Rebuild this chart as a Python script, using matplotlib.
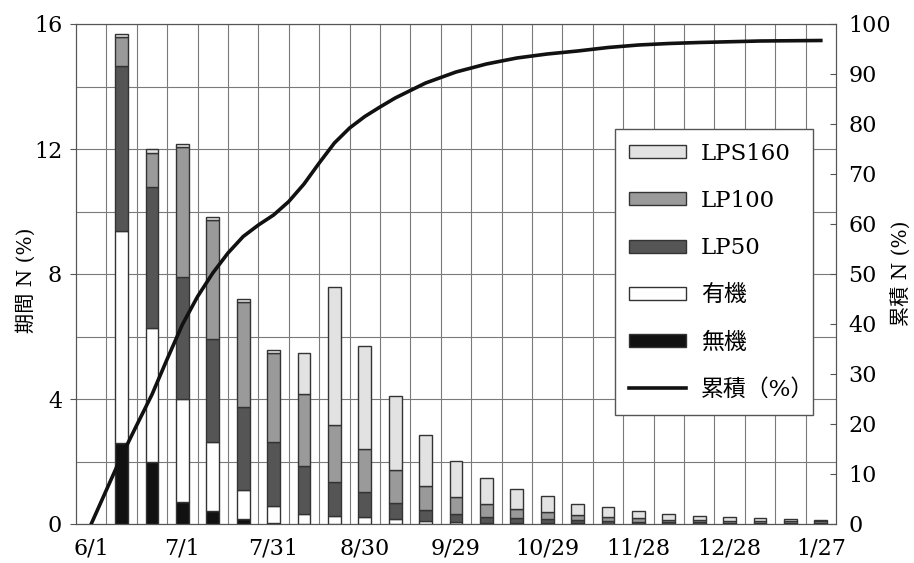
import numpy as np
import matplotlib
matplotlib.use("Agg")
import matplotlib.pyplot as plt
from matplotlib.patches import Patch
from matplotlib.lines import Line2D

plt.rcParams["font.family"] = ["DejaVu Serif", "Noto Sans CJK JP"]

# 10-day periods, days after 6/1
days = np.arange(10, 250, 10)

muki = [2.59, 1.97, 0.72, 0.42, 0.17, 0.02, 0.01, 0.01, 0.01, 0.01, 0.0, 0.0,
        0.0, 0.0, 0.0, 0.0, 0.0, 0.0, 0.0, 0.0, 0.0, 0.0, 0.0, 0.0]
yuki = [6.79, 4.29, 3.29, 2.21, 0.92, 0.55, 0.30, 0.25, 0.23, 0.14, 0.09, 0.06,
        0.04, 0.03, 0.02, 0.02, 0.01, 0.01, 0.01, 0.0, 0.0, 0.0, 0.0, 0.0]
lp50 = [5.29, 4.52, 3.89, 3.29, 2.67, 2.06, 1.54, 1.10, 0.77, 0.53, 0.37, 0.27,
        0.20, 0.15, 0.15, 0.10, 0.08, 0.06, 0.05, 0.05, 0.04, 0.04, 0.03, 0.03]
lp100 = [0.90, 1.10, 4.18, 3.81, 3.34, 2.83, 2.31, 1.82, 1.40, 1.05, 0.75, 0.54,
         0.40, 0.30, 0.21, 0.18, 0.12, 0.12, 0.08, 0.07, 0.07, 0.06, 0.06, 0.06]
lps160 = [0.12, 0.11, 0.09, 0.08, 0.09, 0.10, 1.31, 4.41, 3.28, 2.37, 1.65, 1.15,
          0.84, 0.64, 0.50, 0.35, 0.32, 0.24, 0.18, 0.14, 0.10, 0.08, 0.07, 0.05]

cum_days = [0, 5, 10, 15, 20, 25, 30, 35, 40, 45, 50, 55, 60, 65, 70, 75, 80, 85,
            90, 95, 100, 110, 120, 130, 140, 150, 160, 170, 180, 190, 200, 210,
            220, 230, 240]
cum_vals = [0, 6.8, 13.6, 19.8, 25.9, 33.0, 39.9, 45.5, 50.2, 54.2, 57.5, 59.8,
            61.8, 64.5, 68.0, 72.2, 76.2, 79.2, 81.5, 83.4, 85.2, 88.2, 90.4, 92.0,
            93.2, 94.0, 94.6, 95.3, 95.8, 96.1, 96.3, 96.45, 96.6, 96.65, 96.7]

tick_days = [0, 30, 60, 90, 120, 150, 180, 210, 240]
tick_labels = ["6/1", "7/1", "7/31", "8/30", "9/29", "10/29", "11/28", "12/28", "1/27"]

series = [
    ("無機", muki, "#111111"),
    ("有機", yuki, "#ffffff"),
    ("LP50", lp50, "#555555"),
    ("LP100", lp100, "#9a9a9a"),
    ("LPS160", lps160, "#e2e2e2"),
]

fig = plt.figure(figsize=(9.14, 5.63), dpi=100)
ax = fig.add_axes([76 / 914, 1 - 524 / 563, 760 / 914, 500 / 563])

bottom = np.zeros(len(days))
for name, vals, color in series:
    vals = np.array(vals)
    ax.bar(days, vals, width=4.2, bottom=bottom, color=color,
           edgecolor="#333333", linewidth=1.0, zorder=3)
    bottom += vals

ax.set_xlim(-5, 245)
ax.set_ylim(0, 16)
ax.set_xticks(tick_days)
ax.set_xticklabels(tick_labels)
ax.set_xticks(np.arange(5, 245, 10), minor=True)
ax.set_yticks([0, 4, 8, 12, 16])
ax.set_yticks([2, 6, 10, 14], minor=True)
ax.grid(True, which="minor", axis="x", color="#7a7a7a", linewidth=0.8)
ax.grid(True, which="both", axis="y", color="#7a7a7a", linewidth=0.8)
ax.set_axisbelow(True)
ax.tick_params(axis="x", which="both", length=0, pad=10, labelsize=16)
ax.tick_params(axis="y", which="major", length=4, direction="out", pad=6,
               labelsize=16, color="#555555")
ax.tick_params(axis="y", which="minor", length=0)
for sp in ax.spines.values():
    sp.set_color("#555555")

ax2 = ax.twinx()
ax2.plot(cum_days, cum_vals, color="#111111", linewidth=2.6, zorder=5,
         solid_joinstyle="round")
ax2.set_ylim(0, 100)
ax2.set_yticks(np.arange(0, 101, 10))
ax2.tick_params(axis="y", length=4, direction="in", pad=9, labelsize=16,
                color="#555555")
for sp in ax2.spines.values():
    sp.set_color("#555555")

fig.text(26 / 914, 1 - 280 / 563, "期間 N (%)", rotation=90, fontsize=14.5,
         ha="center", va="center")
fig.text(902 / 914, 1 - 273 / 563, "累積 N (%)", rotation=90, fontsize=14.5,
         ha="center", va="center")

handles = [Patch(facecolor=c, edgecolor="#333333", linewidth=1.0, label=n)
           for n, _, c in reversed(series)]
handles.append(Line2D([], [], color="#111111", linewidth=2.6, label="累積（%）"))
leg = ax2.legend(handles=handles, loc="upper left",
                 bbox_to_anchor=(0.709, 0.222, 0.2605, 0.568), mode="expand",
                 borderaxespad=0, fontsize=16.5, labelspacing=1.1,
                 handlelength=2.5, handleheight=0.5, handletextpad=0.65,
                 borderpad=0.6, fancybox=False, framealpha=1,
                 edgecolor="#555555")
leg.get_frame().set_linewidth(1.0)

fig.savefig("out.png", dpi=100, facecolor="white")
